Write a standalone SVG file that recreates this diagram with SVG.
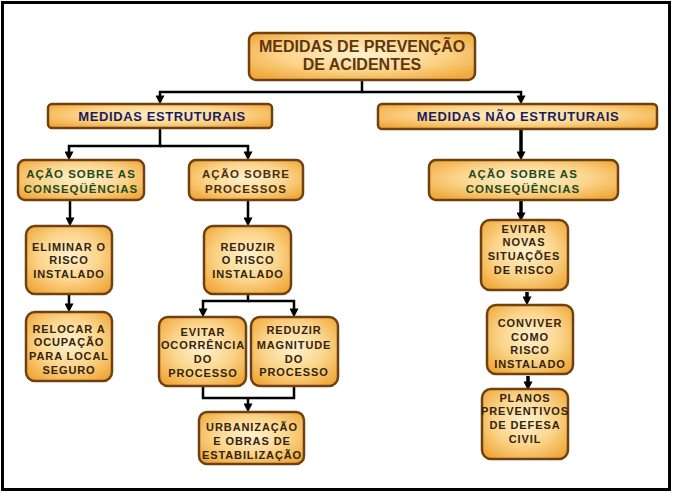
<svg xmlns="http://www.w3.org/2000/svg" width="673" height="493" viewBox="0 0 673 493">
<defs>
<radialGradient id="g" cx="50%" cy="45%" r="65%">
<stop offset="0" stop-color="#fff2cf"/>
<stop offset="0.55" stop-color="#fbd48a"/>
<stop offset="1" stop-color="#f0a83a"/>
</radialGradient>
<marker id="ah" viewBox="0 0 10 10" refX="4" refY="5" markerWidth="9" markerHeight="9" orient="auto" markerUnits="userSpaceOnUse">
<path d="M0,0 L10,5 L0,10 z" fill="#000"/>
</marker>
</defs>
<style>
.b{fill:url(#g);stroke:#704010;stroke-width:2.5}
.t{font-family:"Liberation Sans",Arial,sans-serif;font-weight:bold;text-anchor:middle}
.s{font-size:11px;fill:#33240f;letter-spacing:0.9px}
.gr{font-size:11.5px;fill:#1f4a1f;letter-spacing:1px}
.br{font-size:11.5px;fill:#4a2e10;letter-spacing:1px}
.nv{font-size:13px;fill:#1c1c5c;letter-spacing:0.6px}
.c{fill:none;stroke:#000;stroke-width:2.5}
</style>
<rect x="2.5" y="2.5" width="667" height="487" fill="#fff" stroke="#000" stroke-width="3"/>

<g id="connectors">
<path class="c" d="M362,80 V92 H160 V99" marker-end="url(#ah)"/>
<path class="c" d="M362,92 H521 V99" marker-end="url(#ah)"/>
<path class="c" d="M160,128 V146 H69 V155" marker-end="url(#ah)"/>
<path class="c" d="M160,146 H248 V155" marker-end="url(#ah)"/>
<path class="c" style="stroke-width:3.5" d="M521,129 V155" marker-end="url(#ah)"/>
<path class="c" d="M70,200 V221" marker-end="url(#ah)"/>
<path class="c" d="M69,294 V307" marker-end="url(#ah)"/>
<path class="c" d="M248,200 V221" marker-end="url(#ah)"/>
<path class="c" d="M248,294 V301 H203 V312" marker-end="url(#ah)"/>
<path class="c" d="M248,301 H294 V312" marker-end="url(#ah)"/>
<path class="c" d="M203,386 V398 H294 V386"/>
<path class="c" d="M248,398 V407" marker-end="url(#ah)"/>
<path class="c" style="stroke-width:3.5" d="M521,200 V216" marker-end="url(#ah)"/>
<path class="c" style="stroke-width:3.5" d="M527,292 V300" marker-end="url(#ah)"/>
<path class="c" style="stroke-width:3.5" d="M528,376 V385" marker-end="url(#ah)"/>
</g>

<g id="n-top">
<rect class="b" x="249" y="33" width="226" height="47" rx="7"/>
<text class="t" font-size="16" fill="#5e3610"><tspan x="362" y="52">MEDIDAS DE PREVENÇÃO</tspan><tspan x="362" y="70">DE ACIDENTES</tspan></text>
</g>

<g id="n-me">
<rect class="b" x="48" y="104" width="224" height="24" rx="4"/>
<text class="t nv" x="162" y="121">MEDIDAS ESTRUTURAIS</text>
</g>

<g id="n-mne">
<rect class="b" x="378" y="104" width="279" height="25" rx="4"/>
<text class="t nv" x="518" y="121">MEDIDAS NÃO ESTRUTURAIS</text>
</g>

<g id="n-acl">
<rect class="b" x="18" y="160" width="126" height="40" rx="7"/>
<text class="t gr"><tspan x="81" y="178">AÇÃO SOBRE AS</tspan><tspan x="81" y="193">CONSEQÜÊNCIAS</tspan></text>
</g>

<g id="n-acp">
<rect class="b" x="189" y="160" width="114" height="40" rx="7"/>
<text class="t br"><tspan x="246" y="178">AÇÃO SOBRE</tspan><tspan x="246" y="193">PROCESSOS</tspan></text>
</g>

<g id="n-acr">
<rect class="b" x="429" y="160" width="189" height="40" rx="7"/>
<text class="t gr"><tspan x="523" y="178">AÇÃO SOBRE AS</tspan><tspan x="523" y="193">CONSEQÜÊNCIAS</tspan></text>
</g>

<g id="n-elim">
<rect class="b" x="26" y="226" width="86" height="68" rx="9"/>
<text class="t s"><tspan x="69" y="251">ELIMINAR O</tspan><tspan x="69" y="264">RISCO</tspan><tspan x="69" y="278">INSTALADO</tspan></text>
</g>

<g id="n-reloc">
<rect class="b" x="26" y="312" width="86" height="69" rx="9"/>
<text class="t s"><tspan x="69" y="333">RELOCAR A</tspan><tspan x="69" y="346">OCUPAÇÃO</tspan><tspan x="69" y="360">PARA LOCAL</tspan><tspan x="69" y="374">SEGURO</tspan></text>
</g>

<g id="n-red">
<rect class="b" x="204" y="226" width="87" height="68" rx="9"/>
<text class="t s"><tspan x="248" y="251">REDUZIR</tspan><tspan x="248" y="264">O RISCO</tspan><tspan x="248" y="278">INSTALADO</tspan></text>
</g>

<g id="n-evoc">
<rect class="b" x="159" y="317" width="87" height="69" rx="9"/>
<text class="t s"><tspan x="203" y="336">EVITAR</tspan><tspan x="203" y="349">OCORRÊNCIA</tspan><tspan x="203" y="363">DO</tspan><tspan x="203" y="377">PROCESSO</tspan></text>
</g>

<g id="n-redmag">
<rect class="b" x="251" y="317" width="87" height="69" rx="9"/>
<text class="t s"><tspan x="294" y="334">REDUZIR</tspan><tspan x="294" y="349">MAGNITUDE</tspan><tspan x="294" y="363">DO</tspan><tspan x="294" y="376">PROCESSO</tspan></text>
</g>

<g id="n-urb">
<rect class="b" x="199" y="412" width="105" height="52" rx="8"/>
<text class="t s"><tspan x="252" y="431">URBANIZAÇÃO</tspan><tspan x="252" y="445">E OBRAS DE</tspan><tspan x="252" y="459">ESTABILIZAÇÃO</tspan></text>
</g>

<g id="n-evnov">
<rect class="b" x="481" y="220" width="87" height="70" rx="9"/>
<text class="t s"><tspan x="524" y="233">EVITAR</tspan><tspan x="524" y="246">NOVAS</tspan><tspan x="524" y="260">SITUAÇÕES</tspan><tspan x="524" y="274">DE RISCO</tspan></text>
</g>

<g id="n-conv">
<rect class="b" x="487" y="305" width="86" height="69" rx="9"/>
<text class="t s"><tspan x="530" y="327">CONVIVER</tspan><tspan x="530" y="341">COMO</tspan><tspan x="530" y="354">RISCO</tspan><tspan x="530" y="368">INSTALADO</tspan></text>
</g>

<g id="n-plan">
<rect class="b" x="482" y="389" width="86" height="70" rx="9"/>
<text class="t s"><tspan x="525" y="402">PLANOS</tspan><tspan x="525" y="415">PREVENTIVOS</tspan><tspan x="525" y="429">DE DEFESA</tspan><tspan x="525" y="443">CIVIL</tspan></text>
</g>
</svg>
